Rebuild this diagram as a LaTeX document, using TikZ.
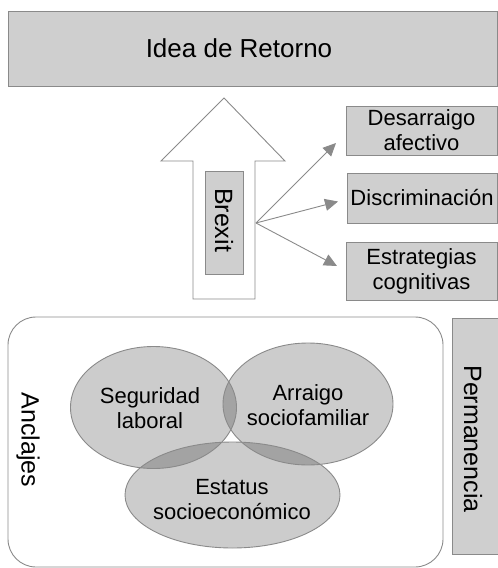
\documentclass[tikz,border=0pt]{standalone}
\usepackage{fontspec}
\setmainfont{Liberation Sans}
\usetikzlibrary{arrows.meta}
\definecolor{boxfill}{HTML}{CFCFCF}
\definecolor{edge}{HTML}{8A8A8A}
\definecolor{ellfill}{HTML}{000000}
\tikzset{
  graybox/.style={draw=edge, fill=boxfill, line width=0.9pt, rectangle, inner sep=0pt, align=center},
  txt/.style={font=\fontsize{22}{25}\selectfont, align=center, inner sep=0pt},
  bigtxt/.style={font=\fontsize{25}{28}\selectfont, inner sep=0pt},
  link/.style={draw=edge, line width=0.9pt, -{Triangle[length=13pt,width=12pt]}},
}
\begin{document}
\begin{tikzpicture}[x=1pt,y=-1pt]
\useasboundingbox (0,0) rectangle (498,568);
% title
\node[graybox, minimum width=489pt, minimum height=75pt] (title) at (252.75,48.5) {};
\node[font=\fontsize{26}{30}\selectfont, inner sep=0pt] (titletxt) at (239,48) {Idea de Retorno};
% block arrow
\draw[draw=edge, fill=white, line width=0.9pt] (193,299) -- (193,161) -- (161,161) -- (224,98) -- (285,161) -- (255,161) -- (255,299) -- cycle;
\node[graybox, minimum width=38pt, minimum height=103pt] (brexit) at (224,222.5) {};
\node[bigtxt, rotate=-90] (brexittxt) at (224,220) {Brexit};
% right boxes
\node[graybox, txt, minimum width=151pt, minimum height=49pt] (desa) at (421.5,130.5) {Desarraigo\\afectivo};
\node[graybox, txt, minimum width=150pt, minimum height=50pt] (disc) at (422,198) {Discriminación};
\node[graybox, txt, minimum width=151pt, minimum height=58pt] (estr) at (421.5,271) {Estrategias\\cognitivas};
% connectors
\coordinate (src) at (256,223);
\coordinate (t1) at (336,143);
\coordinate (t2) at (338,201.5);
\coordinate (t3) at (337,266);
\draw[link] (src) -- (t1);
\draw[link] (src) -- (t2);
\draw[link] (src) -- (t3);
% anclajes frame
\node[draw=edge, line width=0.9pt, rounded corners=28pt, minimum width=435pt, minimum height=250pt, inner sep=0pt] (frame) at (225.5,442) {};
\node[bigtxt, rotate=-90] (anclajes) at (28,440) {Anclajes};
\node[graybox, minimum width=46pt, minimum height=236pt] (perm) at (475,436) {};
\node[bigtxt, rotate=-90] (permtxt) at (473,439) {Permanencia};
% ellipses
\fill[ellfill, fill opacity=0.2] (153.5,407.5) ellipse (83 and 61);
\fill[ellfill, fill opacity=0.2] (308,404) ellipse (85 and 61);
\fill[ellfill, fill opacity=0.2] (232.5,495) ellipse (107.5 and 53);
\begin{scope}
\clip (153.5,407.5) ellipse (83 and 61);
\clip (308,404) ellipse (85 and 61);
\fill[white] (232.5,495) ellipse (107.5 and 53);
\end{scope}
\draw[edge, line width=0.9pt] (153.5,407.5) ellipse (83 and 61);
\draw[edge, line width=0.9pt] (308,404) ellipse (85 and 61);
\draw[edge, line width=0.9pt] (232.5,495) ellipse (107.5 and 53);
\node[txt] (seg) at (150,408) {Seguridad\\laboral};
\node[txt] (arr) at (308,405) {Arraigo\\sociofamiliar};
\node[txt] (est) at (232,500) {Estatus\\socioeconómico};
\end{tikzpicture}
\end{document}
